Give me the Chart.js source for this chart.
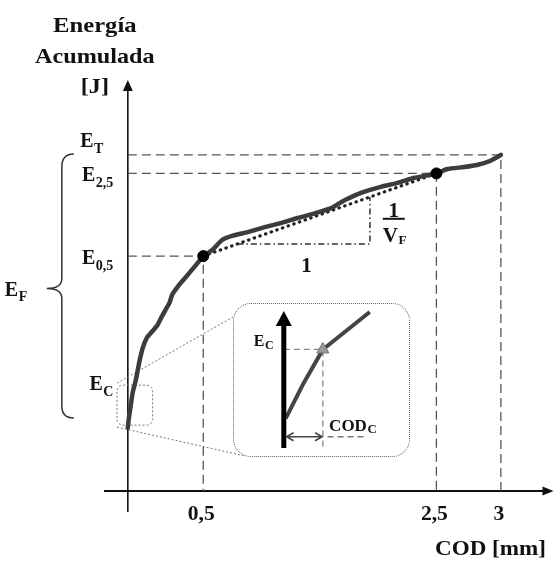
<!DOCTYPE html>
<html>
<head>
<meta charset="utf-8">
<script src="https://cdn.jsdelivr.net/npm/chart.js@4.4.1/dist/chart.umd.min.js"></script>
<style>
  body { margin: 0; background: #fff; }
  #wrap { position: relative; width: 560px; height: 561px; }
  #inset { position: absolute; left: 233px; top: 303px; width: 177px; height: 154px; box-sizing: border-box;
           border: 1px dotted #666; border-radius: 18px; background: #fff; overflow: hidden; }
  canvas { display: block; }
</style>
</head>
<body>
<div id="wrap">
  <canvas id="main" width="560" height="561"></canvas>
  <div id="inset"><canvas id="zoom" width="175" height="152"></canvas></div>
</div>
<script>
// curve (COD in mm, energy in arbitrary J units)
const codCurve = [0, 0.007, 0.02, 0.033, 0.053, 0.066, 0.079, 0.099, 0.125, 0.164,
  0.197, 0.224, 0.25, 0.276, 0.296, 0.329, 0.368, 0.408, 0.447, 0.474,
  0.5, 0.577, 0.662, 0.747, 0.891, 1.036, 1.172, 1.317, 1.462, 1.598,
  1.657, 1.717, 1.853, 2.023, 2.168, 2.313, 2.5, 2.585, 2.715, 2.815, 2.915, 3.0];
const energyCurve = [1.88, 2.17, 2.56, 2.95, 3.30, 3.60, 3.90, 4.26, 4.55, 4.76,
  4.94, 5.18, 5.39, 5.60, 5.86, 6.07, 6.28, 6.49, 6.70, 6.85,
  6.99, 7.17, 7.47, 7.59, 7.71, 7.86, 7.98, 8.13, 8.27, 8.42,
  8.54, 8.66, 8.87, 9.05, 9.17, 9.32, 9.45, 9.58, 9.64, 9.70, 9.82, 10.0];

const codTicks = [0.5, 2.5, 3];
const codTickLabels = ['0,5', '2,5', '3'];
const energyAtTicks = [6.99, 9.45, 10.0];     // E0,5, E2,5, ET

const energyMarks = [10.0, 9.45, 6.99, 3.25];
const energySubs = ['T', '2,5', '0,5', 'C'];

// slope triangle under the dotted secant
const slopeCod = [0.793, 1.93];
const slopeEnergy = [7.35, 8.75];

// zoomed window around the crack point
const boxCod = [-0.072, 0.164];
const boxEnergy = [1.96, 3.15];

// inset (local units: CODc = 1, Ec = 1)
const insetCod = [0.05, 0.51, 1.0, 2.2];
const insetEnergy = [0.30, 0.66, 1.0, 1.38];
const codC = 1.0, energyC = 1.0;

// the sketch is not to scale along COD: each stretch gets its own width
const codBreaks = [0, 0.5, 2.5, 3];
const codStretch = [1, 0.773, 0.855];

function sketchPos(v) {
  let pos = 0;
  for (let i = 0; i < codStretch.length; i++) {
    const a = codBreaks[i], b = codBreaks[i + 1];
    if (v <= b || i === codStretch.length - 1) return pos + (v - a) * codStretch[i];
    pos += (b - a) * codStretch[i];
  }
}

class SketchScale extends Chart.LinearScale {
  getPixelForValue(v) {
    const a = sketchPos(this.min), b = sketchPos(this.max);
    return this.getPixelForDecimal((sketchPos(v) - a) / (b - a));
  }
}
SketchScale.id = 'sketch';
SketchScale.defaults = {};
Chart.register(SketchScale);

const serif = '"Liberation Serif", "DejaVu Serif", serif';
const font = (s) => `bold ${s}px ${serif}`;

function subText(ctx, main, sub, x, y, size, subSize, drop, align) {
  ctx.font = font(size);
  const w1 = ctx.measureText(main).width;
  ctx.font = font(subSize);
  const w2 = ctx.measureText(sub).width;
  let left = x;
  if (align === 'right') left = x - w1 - w2;
  if (align === 'center') left = x - (w1 + w2) / 2;
  ctx.textAlign = 'left';
  ctx.textBaseline = 'alphabetic';
  ctx.font = font(size);
  ctx.fillText(main, left, y);
  ctx.font = font(subSize);
  ctx.fillText(sub, left + w1 + 0.5, y + drop);
}

// the scanned lettering is a bit wider than Liberation Serif
function wideText(ctx, text, cx, y, stretch) {
  ctx.save();
  ctx.translate(cx, y);
  ctx.scale(stretch, 1);
  ctx.fillText(text, 0, 0);
  ctx.restore();
}

const pts = (xs, ys) => xs.map((v, i) => ({ x: v, y: ys[i] }));

const sketchAxes = {
  id: 'sketchAxes',
  beforeDatasetsDraw(chart) {
    const { ctx, chartArea: a, scales: { x, y } } = chart;
    const x0 = x.getPixelForValue(0), y0 = y.getPixelForValue(0);
    ctx.save();
    ctx.strokeStyle = '#111';
    ctx.fillStyle = '#111';
    ctx.lineWidth = 2;
    ctx.beginPath(); ctx.moveTo(a.left, y0); ctx.lineTo(a.right - 6, y0); ctx.stroke();
    ctx.lineWidth = 1.6;
    ctx.beginPath(); ctx.moveTo(x0, a.bottom); ctx.lineTo(x0, a.top + 6); ctx.stroke();
    ctx.beginPath(); ctx.moveTo(a.right, y0); ctx.lineTo(a.right - 11, y0 - 4.5); ctx.lineTo(a.right - 11, y0 + 4.5); ctx.closePath(); ctx.fill();
    ctx.beginPath(); ctx.moveTo(x0, a.top); ctx.lineTo(x0 - 5, a.top + 11); ctx.lineTo(x0 + 5, a.top + 11); ctx.closePath(); ctx.fill();

    // zoom window and its connector lines to the inset
    const inset = document.getElementById('inset');
    const bl = x.getPixelForValue(boxCod[0]), br = x.getPixelForValue(boxCod[1]);
    const bt = y.getPixelForValue(boxEnergy[1]), bb = y.getPixelForValue(boxEnergy[0]);
    ctx.strokeStyle = '#777';
    ctx.lineWidth = 1;
    ctx.setLineDash([2, 2]);
    ctx.beginPath(); ctx.roundRect(bl, bt, br - bl, bb - bt, 6); ctx.stroke();
    ctx.beginPath();
    ctx.moveTo(bl, bt - 2); ctx.lineTo(inset.offsetLeft, inset.offsetTop + 14);
    ctx.moveTo(bl, bb + 2); ctx.lineTo(inset.offsetLeft + 12, inset.offsetTop + inset.offsetHeight - 1);
    ctx.stroke();
    ctx.restore();
  },
  afterDraw(chart) {
    const { ctx, chartArea: a, scales: { x, y } } = chart;
    const x0 = x.getPixelForValue(0), y0 = y.getPixelForValue(0);
    ctx.save();
    ctx.fillStyle = '#111';
    ctx.textAlign = 'center';
    ctx.textBaseline = 'alphabetic';
    ctx.font = font(22);
    wideText(ctx, 'Energía', x0 - 33, a.top - 48, 1.12);
    wideText(ctx, 'Acumulada', x0 - 33, a.top - 17, 1.1);
    wideText(ctx, '[J]', x0 - 33, a.top + 13, 1.1);

    ctx.font = font(20);
    codTicks.forEach((v, i) => wideText(ctx, codTickLabels[i], x.getPixelForValue(v) - 2, y0 + 29, 1.08));
    ctx.font = font(21);
    wideText(ctx, 'COD [mm]', a.right - 63, a.bottom + 43, 1.1);

    // energy levels on the left of the axis
    const rightEdge = [-25, -15, -15, -15];
    const drop = [-8, 8, 8, 8];
    energyMarks.forEach((v, i) => {
      subText(ctx, 'E', energySubs[i], x0 + rightEdge[i], y.getPixelForValue(v) + drop[i], 20, 14, 6, 'right');
    });

    // EF brace from ET down below Ec
    const top = y.getPixelForValue(energyMarks[0]), bot = y.getPixelForValue(2.17);
    const mid = (top + bot) / 2 + 2, bx = x0 - 66;
    ctx.strokeStyle = '#333';
    ctx.lineWidth = 1.5;
    ctx.beginPath();
    ctx.moveTo(bx + 12, top - 1);
    ctx.quadraticCurveTo(bx, top - 1, bx, top + 12);
    ctx.lineTo(bx, mid - 10);
    ctx.quadraticCurveTo(bx, mid, bx - 15, mid);
    ctx.quadraticCurveTo(bx, mid, bx, mid + 10);
    ctx.lineTo(bx, bot - 12);
    ctx.quadraticCurveTo(bx, bot, bx + 12, bot);
    ctx.stroke();
    subText(ctx, 'E', 'F', bx - 57, mid + 7, 20, 14, 5, 'left');

    // slope annotation
    ctx.fillStyle = '#111';
    ctx.font = font(21);
    ctx.textAlign = 'center';
    ctx.fillText('1', x.getPixelForValue(1.385), y.getPixelForValue(6.73) + 7);
    const fx = x.getPixelForValue(2.134);
    ctx.fillText('1', fx, y.getPixelForValue(8.36) + 7);
    ctx.lineWidth = 2;
    ctx.strokeStyle = '#111';
    const fy = y.getPixelForValue(8.10);
    ctx.beginPath(); ctx.moveTo(fx - 11, fy); ctx.lineTo(fx + 11, fy); ctx.stroke();
    subText(ctx, 'V', 'F', fx - 11, y.getPixelForValue(7.41), 21, 13, 2, 'left');
    ctx.restore();
  }
};

const guide = (c, e) => ({
  data: [{ x: 0, y: e }, { x: c, y: e }, { x: c, y: 0 }],
  showLine: true, borderColor: '#555', borderWidth: 1.3, borderDash: [9, 5], pointRadius: 0, order: 4
});

new Chart(document.getElementById('main'), {
  type: 'scatter',
  data: {
    datasets: [
      ...codTicks.map((c, i) => guide(c, energyAtTicks[i])),
      {
        data: [{ x: slopeCod[0], y: slopeEnergy[0] }, { x: slopeCod[1], y: slopeEnergy[0] }, { x: slopeCod[1], y: slopeEnergy[1] }],
        showLine: true, borderColor: '#333', borderWidth: 1.5, borderDash: [6, 3, 1.5, 3], pointRadius: 0, order: 3
      },
      {
        data: [{ x: codTicks[0], y: energyAtTicks[0] }, { x: codTicks[1], y: energyAtTicks[1] }],
        showLine: true, borderColor: '#222', borderWidth: 3.2, borderDash: [0.5, 5.5], borderCapStyle: 'round',
        pointRadius: 0, order: 2
      },
      {
        data: pts(codCurve, energyCurve),
        showLine: true, borderColor: '#3c3c3c', borderWidth: 4.5, pointRadius: 0, tension: 0.2,
        borderJoinStyle: 'round', borderCapStyle: 'round', order: 1
      },
      {
        data: pts(codTicks.slice(0, 2), energyAtTicks.slice(0, 2)),
        showLine: false, pointRadius: 5.5, backgroundColor: '#000', borderColor: '#000', order: 0
      }
    ]
  },
  options: {
    responsive: false,
    animation: false,
    events: [],
    layout: { padding: { left: 104, right: 3, top: 80, bottom: 49 } },
    scales: {
      x: { type: 'sketch', min: -0.158, max: 3.408, display: false },
      y: { type: 'linear', min: -0.625, max: 12.23, display: false }
    },
    plugins: { legend: { display: false }, tooltip: { enabled: false } }
  },
  plugins: [sketchAxes]
});

// inset: detail of the crack point
const insetMarks = {
  id: 'insetMarks',
  afterDraw(chart) {
    const { ctx, chartArea: a, scales: { x, y } } = chart;
    const x0 = x.getPixelForValue(0);
    ctx.save();
    ctx.strokeStyle = '#000';
    ctx.fillStyle = '#000';
    ctx.lineWidth = 5;
    ctx.beginPath(); ctx.moveTo(x0, a.bottom); ctx.lineTo(x0, a.top + 10); ctx.stroke();
    ctx.beginPath(); ctx.moveTo(x0, a.top - 1); ctx.lineTo(x0 - 8, a.top + 14); ctx.lineTo(x0 + 8, a.top + 14); ctx.closePath(); ctx.fill();

    // CODc double arrow
    const ay = y.getPixelForValue(0.114);
    const l = x.getPixelForValue(0.07), r = x.getPixelForValue(0.98);
    ctx.strokeStyle = '#444';
    ctx.lineWidth = 1.6;
    ctx.beginPath();
    ctx.moveTo(l, ay); ctx.lineTo(r, ay);
    ctx.moveTo(l + 7, ay - 4); ctx.lineTo(l, ay); ctx.lineTo(l + 7, ay + 4);
    ctx.moveTo(r - 7, ay - 4); ctx.lineTo(r, ay); ctx.lineTo(r - 7, ay + 4);
    ctx.stroke();
    ctx.strokeStyle = '#777';
    ctx.lineWidth = 1.3;
    ctx.setLineDash([6, 4]);
    ctx.beginPath(); ctx.moveTo(x.getPixelForValue(1.12), ay); ctx.lineTo(x.getPixelForValue(2.05), ay); ctx.stroke();

    ctx.fillStyle = '#111';
    subText(ctx, 'E', 'C', x.getPixelForValue(-0.77), y.getPixelForValue(1.03), 16, 12, 3, 'left');
    subText(ctx, 'COD', 'C', x.getPixelForValue(1.16), y.getPixelForValue(0.17), 17, 13, 2, 'left');
    ctx.restore();
  }
};

new Chart(document.getElementById('zoom'), {
  type: 'scatter',
  data: {
    datasets: [
      {
        data: [{ x: 0, y: energyC }, { x: codC, y: energyC }, { x: codC, y: 0 }],
        showLine: true, borderColor: '#888', borderWidth: 1.3, borderDash: [6, 4], pointRadius: 0, order: 2
      },
      {
        data: pts(insetCod, insetEnergy),
        showLine: true, borderColor: '#444', borderWidth: 4, pointRadius: 0, clip: false,
        borderJoinStyle: 'round', order: 1
      },
      {
        data: [{ x: codC, y: energyC }],
        pointStyle: 'triangle', pointRadius: 7, backgroundColor: '#9a9a9a', borderColor: '#777', borderWidth: 1, order: 0
      }
    ]
  },
  options: {
    responsive: false,
    animation: false,
    events: [],
    layout: { padding: 0 },
    scales: {
      x: { type: 'linear', min: -1.07, max: 3.0, display: false },
      y: { type: 'linear', min: 0, max: 1.38, display: false }
    },
    plugins: { legend: { display: false }, tooltip: { enabled: false } }
  },
  plugins: [insetMarks]
});
</script>
</body>
</html>
